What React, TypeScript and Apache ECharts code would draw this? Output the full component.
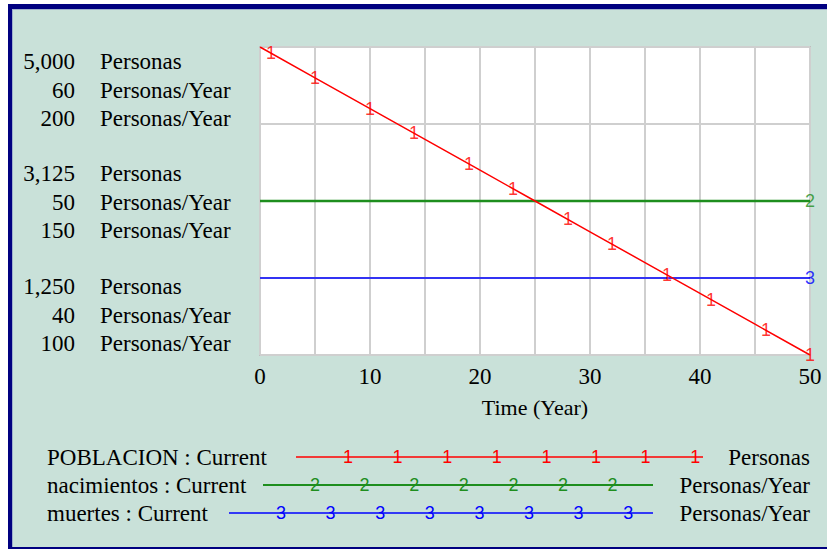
import React, { useEffect, useRef } from "react";
import * as echarts from "echarts";

// ---- data ----
const years = [0, 5, 10, 15, 20, 25, 30, 35, 40, 45, 50];
const poblacion = [5000, 4625, 4250, 3875, 3500, 3125, 2750, 2375, 2000, 1625, 1250];
const nacimientos = [50, 50, 50, 50, 50, 50, 50, 50, 50, 50, 50];
const muertes = [125, 125, 125, 125, 125, 125, 125, 125, 125, 125, 125];

// marker "1" positions along POBLACION
const poblacionMarkerYears = [1, 5, 10, 14, 19, 23, 28, 32, 37, 41, 46, 50];
const poblacionMarkerValues = [4925, 4625, 4250, 3950, 3575, 3275, 2900, 2600, 2225, 1925, 1550, 1250];
const nacimientosMarkerYears = [50];
const nacimientosMarkerValues = [50];
const muertesMarkerYears = [50];
const muertesMarkerValues = [125];

// axis ranges and labelled ticks (top, middle, bottom)
const poblacionRange = [1250, 5000];
const nacimientosRange = [40, 60];
const muertesRange = [100, 200];
const poblacionTicks = [5000, 3125, 1250];
const nacimientosTicks = [60, 50, 40];
const muertesTicks = [200, 150, 100];
const xTickLabels = [0, 10, 20, 30, 40, 50];

const seriesNames = ["POBLACION : Current", "nacimientos : Current", "muertes : Current"];
const units = ["Personas", "Personas/Year", "Personas/Year"];
const markers = ["1", "2", "3"];

// ---- styles ----
const RED = "#FF0000";
const GREEN = "#1E8E1E";
const BLUE = "#0000FF";
const BG = "#C9E1D9";
const NAVY = "#000080";
const GRID = "#CFCFCF";
const SERIF = "'Liberation Serif', 'Times New Roman', serif";
const SANS = "'Liberation Sans', Arial, sans-serif";
const FS = 23;
const MFS = 18;
const colors = [RED, GREEN, BLUE];

// vertical shift of each label line within its group: [position][variable]
const SHIFT = [
  [14, 43, 71],
  [-28, 1, 29],
  [-69, -40, -12],
];

function richFor(varIdx: number, align: string) {
  const rich: any = {};
  for (let p = 0; p < 3; p++) {
    const s = SHIFT[p][varIdx];
    rich["p" + p] = {
      fontSize: FS,
      fontFamily: SERIF,
      color: "#000",
      align,
      padding: s >= 0 ? [2 * s, 0, 0, 0] : [0, 0, -2 * s, 0],
    };
  }
  return rich;
}

function makeYAxis(
  range: number[],
  interval: number,
  ticks: number[],
  varIdx: number,
  kind: "num" | "unit",
  split: boolean
) {
  return {
    type: "value",
    position: "left",
    min: range[0],
    max: range[1],
    interval,
    axisLine: { show: false },
    axisTick: { show: false },
    splitLine: { show: split, lineStyle: { color: GRID, width: 2 } },
    axisLabel: {
      show: true,
      margin: kind === "num" ? 185 : 160,
      align: kind === "num" ? "right" : "left",
      verticalAlign: "middle",
      formatter: (v: number) => {
        const i = ticks.findIndex((t) => Math.abs(t - v) < 1e-6);
        if (i < 0) return "";
        const txt = kind === "num" ? ticks[i].toLocaleString("en-US") : units[varIdx];
        return "{p" + i + "|" + txt + "}";
      },
      rich: richFor(varIdx, kind === "num" ? "right" : "left"),
    },
  };
}

function markerSeries(yAxisIndex: number, xs: number[], ys: number[], idx: number) {
  return {
    type: "scatter",
    yAxisIndex,
    silent: true,
    symbol: "circle",
    symbolSize: 1,
    itemStyle: { color: "rgba(0,0,0,0)" },
    data: xs.map((x, i) => [x, ys[i]]),
    label: {
      show: true,
      position: "inside",
      formatter: markers[idx],
      color: colors[idx],
      fontSize: MFS,
      fontFamily: SANS,
    },
    z: 5,
  };
}

function buildLegend() {
  const rows = [
    { y: 457, x1: 296, x2: 703 },
    { y: 485, x1: 263, x2: 653 },
    { y: 513, x1: 229, x2: 653 },
  ];
  const firstOffset = [52, 52, 52];
  const els: any[] = [];
  rows.forEach((r, i) => {
    els.push({
      type: "text",
      x: 47,
      y: r.y,
      style: {
        text: seriesNames[i],
        fill: "#000",
        font: FS + "px " + SERIF,
        align: "left",
        verticalAlign: "middle",
        textAlign: "left",
        textVerticalAlign: "middle",
      },
    });
    els.push({
      type: "text",
      x: 810,
      y: r.y,
      style: {
        text: units[i],
        fill: "#000",
        font: FS + "px " + SERIF,
        align: "right",
        verticalAlign: "middle",
        textAlign: "right",
        textVerticalAlign: "middle",
      },
    });
    els.push({
      type: "line",
      shape: { x1: r.x1, y1: r.y, x2: r.x2, y2: r.y },
      style: { stroke: colors[i], lineWidth: i === 1 ? 2 : 1.5 },
    });
    for (let x = r.x1 + firstOffset[i]; x < r.x2 - 4; x += 49.6) {
      els.push({
        type: "text",
        x,
        y: r.y,
        style: {
          text: markers[i],
          fill: colors[i],
          font: MFS + "px " + SANS,
          align: "center",
          verticalAlign: "middle",
          textAlign: "center",
          textVerticalAlign: "middle",
        },
      });
    }
  });
  return els;
}

function buildFrame() {
  return [
    { type: "rect", shape: { x: 0, y: 0, width: 8, height: 549 }, style: { fill: "#fff" } },
    { type: "rect", shape: { x: 0, y: 0, width: 827, height: 4 }, style: { fill: "#fff" } },
    { type: "rect", shape: { x: 8, y: 4, width: 4, height: 545 }, style: { fill: NAVY } },
    { type: "rect", shape: { x: 8, y: 4, width: 819, height: 5 }, style: { fill: NAVY } },
    { type: "rect", shape: { x: 8, y: 547, width: 819, height: 2 }, style: { fill: NAVY } },
    { type: "rect", shape: { x: 12, y: 9, width: 1, height: 538 }, style: { fill: "#9FB0CC" } },
    { type: "rect", shape: { x: 12, y: 9, width: 815, height: 1 }, style: { fill: "#9FB0CC" } },
  ];
}

export default function App() {
  const ref = useRef<HTMLDivElement>(null);
  useEffect(() => {
    document.body.style.margin = "0";
    const chart = echarts.init(ref.current!, null, { renderer: "svg" });
    const option: any = {
      animation: false,
      backgroundColor: BG,
      grid: {
        left: 260,
        top: 47,
        width: 550,
        height: 308,
        show: true,
        backgroundColor: "#FFFFFF",
        borderColor: "#BEBEBE",
        borderWidth: 2,
        containLabel: false,
        outerBoundsMode: "none",
      },
      xAxis: {
        type: "value",
        min: 0,
        max: 50,
        interval: 5,
        axisLine: { show: false },
        axisTick: { show: false },
        splitLine: { show: true, lineStyle: { color: GRID, width: 2 } },
        axisLabel: {
          margin: 10,
          fontSize: FS,
          fontFamily: SERIF,
          color: "#000",
          formatter: (v: number) => (xTickLabels.indexOf(v) >= 0 ? String(v) : ""),
        },
        name: "Time (Year)",
        nameLocation: "middle",
        nameGap: 41,
        nameTextStyle: { fontSize: 22, fontFamily: SERIF, color: "#000" },
      },
      yAxis: [
        makeYAxis(poblacionRange, 625, poblacionTicks, 0, "num", false),
        makeYAxis(nacimientosRange, 5, nacimientosTicks, 1, "num", true),
        makeYAxis(muertesRange, 25, muertesTicks, 2, "num", false),
        makeYAxis(poblacionRange, 625, poblacionTicks, 0, "unit", false),
        makeYAxis(nacimientosRange, 5, nacimientosTicks, 1, "unit", false),
        makeYAxis(muertesRange, 25, muertesTicks, 2, "unit", false),
      ],
      series: [
        {
          type: "line",
          yAxisIndex: 1,
          silent: true,
          symbol: "none",
          data: years.map((y, i) => [y, nacimientos[i]]),
          lineStyle: { color: GREEN, width: 2.5 },
          z: 2,
        },
        {
          type: "line",
          yAxisIndex: 2,
          silent: true,
          symbol: "none",
          data: years.map((y, i) => [y, muertes[i]]),
          lineStyle: { color: BLUE, width: 1.5 },
          z: 3,
        },
        {
          type: "line",
          yAxisIndex: 0,
          silent: true,
          symbol: "none",
          data: years.map((y, i) => [y, poblacion[i]]),
          lineStyle: { color: RED, width: 1.5 },
          z: 4,
        },
        markerSeries(0, poblacionMarkerYears, poblacionMarkerValues, 0),
        markerSeries(1, nacimientosMarkerYears, nacimientosMarkerValues, 1),
        markerSeries(2, muertesMarkerYears, muertesMarkerValues, 2),
      ],
      graphic: [...buildFrame(), ...buildLegend()],
    };
    chart.setOption(option);
    return () => chart.dispose();
  }, []);
  return <div ref={ref} style={{ width: 827, height: 549 }} />;
}
